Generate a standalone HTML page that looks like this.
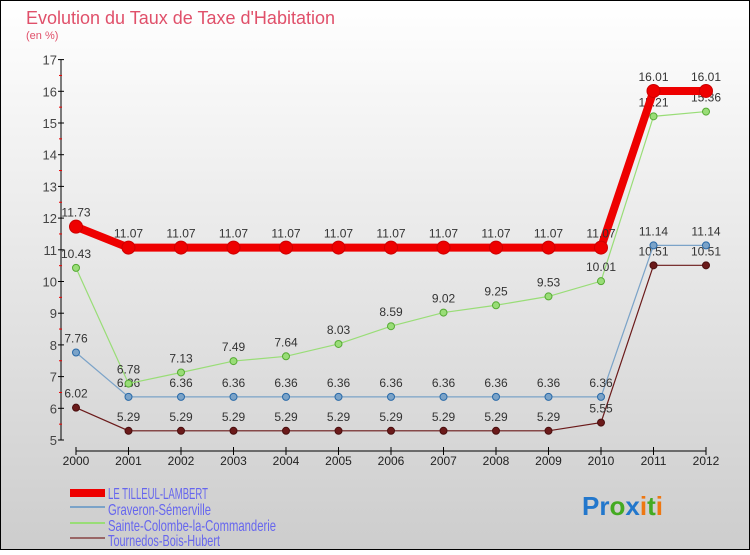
<!DOCTYPE html>
<html><head><meta charset="utf-8"><style>
body{margin:0}
#c{position:relative;width:750px;height:550px;font-family:"Liberation Sans",sans-serif;}
</style></head><body>
<div id="c">
<svg width="750" height="550" xmlns="http://www.w3.org/2000/svg" id="s">
<defs><linearGradient id="g" x1="0" y1="0" x2="0" y2="1"><stop offset="0" stop-color="#ffffff"/><stop offset="1" stop-color="#cdcdcd"/></linearGradient></defs>
<rect x="0.5" y="0.5" width="749" height="549" fill="url(#g)" stroke="#000"/>
<text x="26" y="24" font-size="18" fill="#e0506a">Evolution du Taux de Taxe d'Habitation</text>
<text x="26" y="39" font-size="11" fill="#e0506a">(en %)</text>
<g id="axes"></g><g id="series"></g>
<g font-size="16" fill="#6666ee">
<rect x="70" y="489" width="35" height="8" fill="#ee0000"/>
<text x="108" y="499" textLength="100" lengthAdjust="spacingAndGlyphs">LE TILLEUL-LAMBERT</text>
<rect x="70" y="506" width="35" height="2" fill="#7ba3c8"/>
<text x="108" y="515" textLength="103" lengthAdjust="spacingAndGlyphs">Graveron-Sémerville</text>
<rect x="70" y="522" width="35" height="2" fill="#99dd77"/>
<text x="108" y="531" textLength="168" lengthAdjust="spacingAndGlyphs">Sainte-Colombe-la-Commanderie</text>
<rect x="70" y="537" width="35" height="2" fill="#996666"/>
<text x="108" y="546" textLength="112" lengthAdjust="spacingAndGlyphs">Tournedos-Bois-Hubert</text>
</g>
<g font-size="26" font-weight="bold">
<text x="582" y="515"><tspan fill="#2277cc">Pr</tspan><tspan fill="#44aa22">o</tspan><tspan fill="#2277cc">x</tspan><tspan fill="#ee7711">i</tspan><tspan fill="#44aa22">t</tspan><tspan fill="#ee7711">i</tspan></text>
</g>
</svg>
</div>
<script>
const years=["2000","2001","2002","2003","2004","2005","2006","2007","2008","2009","2010","2011","2012"];
const tilleul=[11.73,11.07,11.07,11.07,11.07,11.07,11.07,11.07,11.07,11.07,11.07,16.01,16.01];
const graveron=[7.76,6.36,6.36,6.36,6.36,6.36,6.36,6.36,6.36,6.36,6.36,11.14,11.14];
const sainte=[10.43,6.78,7.13,7.49,7.64,8.03,8.59,9.02,9.25,9.53,10.01,15.21,15.36];
const tournedos=[6.02,5.29,5.29,5.29,5.29,5.29,5.29,5.29,5.29,5.29,5.55,10.51,10.51];
const yTicks=[5,6,7,8,9,10,11,12,13,14,15,16,17];
const NS="http://www.w3.org/2000/svg";
const X=i=>76+i*52.5;
const Y=v=>440-(v-5)*31.7;
function mk(t,a,p){const e=document.createElementNS(NS,t);for(const k in a)e.setAttribute(k,a[k]);p.appendChild(e);return e;}
const ax=document.getElementById('axes');
let e=mk('line',{x1:61,y1:Y(17),x2:61,y2:Y(5),stroke:'#000'},ax);


e=mk('line',{x1:X(0),y1:451,x2:X(12),y2:451,stroke:'#000'},ax);


yTicks.forEach(v=>{
  mk('line',{x1:58,y1:Y(v),x2:64,y2:Y(v),stroke:'#000'},ax);
  if(v<17)mk('line',{x1:59,y1:Y(v+0.5),x2:62,y2:Y(v+0.5),stroke:'#e00'},ax);
  const t=mk('text',{x:57,y:Y(v)+5,'font-size':13,'text-anchor':'end',fill:'#444'},ax);
  t.textContent=v;
  
  
});
years.forEach((y,i)=>{
  mk('line',{x1:X(i),y1:447,x2:X(i),y2:455,stroke:'#000'},ax);
  const t=mk('text',{x:X(i),y:465,'font-size':12,'text-anchor':'middle',fill:'#222'},ax);
  t.textContent=y;
  
  
});
const sg=document.getElementById('series');
function draw(name,vals,color,w,r,dark){
  const g=mk('g',{},sg);
  
  
  mk('polyline',{points:vals.map((v,i)=>X(i)+','+Y(v)).join(' '),fill:'none',stroke:color,'stroke-width':w},g);
  vals.forEach((v,i)=>{
    const c=mk('circle',{cx:X(i),cy:Y(v),r:r,fill:color,stroke:dark,'stroke-width':1},g);
    
    
    const t=mk('text',{x:X(i),y:Y(v)-10,'font-size':12,'text-anchor':'middle',fill:'#333'},g);
    t.textContent=v.toFixed(2);
    
    
  });
}
draw('tournedos',tournedos,'#6b1a1a',1.2,3.5,'#4a0f0f');
draw('graveron',graveron,'#7ba3c8',1.2,3.5,'#2a6aa8');
draw('sainte-colombe',sainte,'#99dd77',1.2,3.5,'#55aa33');
draw('tilleul',tilleul,'#ee0000',8,6.5,'#cc0000');
</script>
</body></html>
